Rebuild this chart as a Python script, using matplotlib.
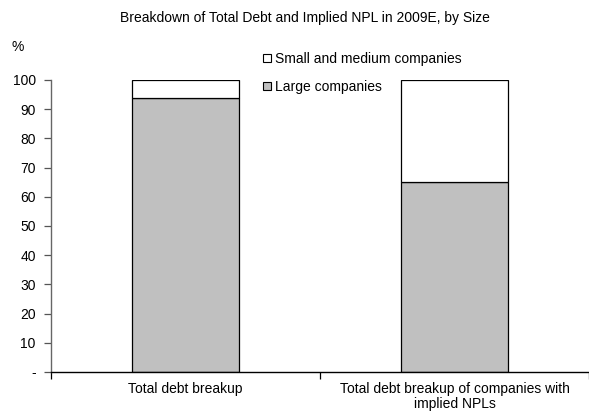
import matplotlib
matplotlib.use("Agg")
import matplotlib.pyplot as plt
from matplotlib.patches import Patch

plt.rcParams['font.family'] = ['Liberation Sans', 'DejaVu Sans']
plt.rcParams['font.size'] = 10

categories = ['Total debt breakup', 'Total debt breakup of companies with\nimplied NPLs']
large = [94, 65]
small_medium = [6, 35]
yticks = [0, 10, 20, 30, 40, 50, 60, 70, 80, 90, 100]
ytick_labels = ['-', '10', '20', '30', '40', '50', '60', '70', '80', '90', '100']

W, H = 589, 413
fig = plt.figure(figsize=(W / 100, H / 100), dpi=100)
# axes from x=51 px to right edge, y=80 px (100) to y=372 px (0)
ax = fig.add_axes([51 / W, (H - 372) / H, (W - 51) / W, (372 - 80) / H])

x = list(range(len(categories)))
ax.bar(x, large, width=0.4, color='#c0c0c0', edgecolor='black', linewidth=0.9)
ax.bar(x, small_medium, width=0.4, bottom=large, color='white', edgecolor='black', linewidth=0.9)

ax.set_ylim(0, 100)
ax.set_xlim(-0.5, 1.46)
ax.set_yticks(yticks)
ax.set_yticklabels(ytick_labels)
ax.set_xticks(x)
ax.set_xticklabels(categories, linespacing=1.1)
ax.tick_params(axis='x', length=0, pad=7)
ax.set_xticks([-0.5, 0.5, 1.5], minor=True)
ax.tick_params(axis='x', which='minor', length=5, width=0.9, direction='out')
ax.tick_params(axis='y', length=5, width=0.9, direction='out', pad=6,
               colors='#555555', labelcolor='black')

for s in ['top', 'right']:
    ax.spines[s].set_visible(False)
ax.spines['left'].set_color('#666666')
ax.spines['bottom'].set_color('black')
ax.spines['left'].set_linewidth(1.0)
ax.spines['bottom'].set_linewidth(1.0)

fig.text(305 / W, 1 - 18 / H, 'Breakdown of Total Debt and Implied NPL in 2009E, by Size',
         ha='center', va='center', fontsize=10)
fig.text(18 / W, 1 - 47 / H, '%', ha='center', va='center', fontsize=10)

handles = [Patch(facecolor='white', edgecolor='black', linewidth=0.8),
           Patch(facecolor='#c0c0c0', edgecolor='black', linewidth=0.8)]
fig.legend(handles, ['Small and medium companies', 'Large companies'],
           loc='upper left', bbox_to_anchor=(256 / W, 1 - 45 / H),
           frameon=False, borderpad=0, handlelength=0.6, handleheight=0.6,
           handletextpad=0.25, labelspacing=1.0, fontsize=10)

fig.savefig('out.png', dpi=100)
